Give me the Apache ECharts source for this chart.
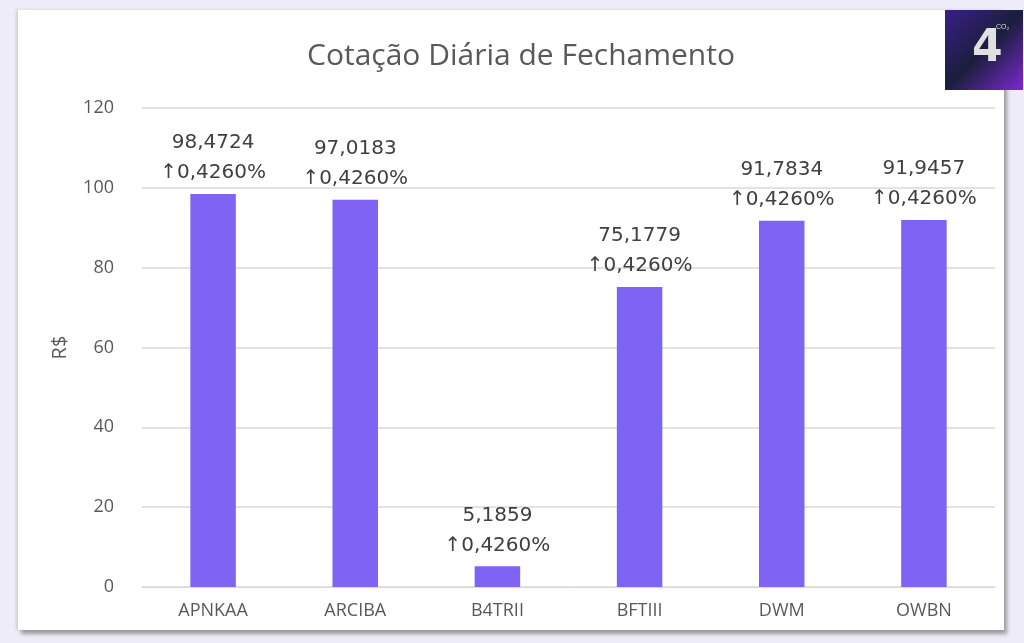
<!DOCTYPE html>
<html>
<head>
<meta charset="utf-8">
<style>
  html, body { margin: 0; width: 100%; height: 100%; background: #efecf9; overflow: hidden; }
  #panel { position: absolute; left: 18px; top: 10px; width: 986px; height: 620px; background: #fff;
           box-shadow: 3px 4px 4px #9a9a9a, -2px 0 3px #cfcfcf; }
  #chart { position: absolute; left: 0; top: 0; width: 1024px; height: 643px; }
</style>
</head>
<body>
<div id="panel"></div>
<div id="chart"></div>
<script src="https://cdn.jsdelivr.net/npm/echarts@6/dist/echarts.min.js"></script>
<script>
var categories = ['APNKAA', 'ARCIBA', 'B4TRII', 'BFTIII', 'DWM', 'OWBN'];
var prices = [98.4724, 97.0183, 5.1859, 75.1779, 91.7834, 91.9457];
var changes = ['0,4260%', '0,4260%', '0,4260%', '0,4260%', '0,4260%', '0,4260%'];

var chart = echarts.init(document.getElementById('chart'));
var textColor = '#404040';
chart.setOption({
  animation: false,
  title: {
    text: 'Cotação Diária de Fechamento',
    left: 516, top: 36, textAlign: 'center',
    textStyle: { fontFamily: 'Open Sans', fontSize: 30, fontWeight: 'normal', color: '#595959' }
  },
  grid: { left: 142, right: 29, top: 108, bottom: 56 },
  xAxis: {
    type: 'category', data: categories,
    axisLine: { lineStyle: { color: '#d9d9d9' } },
    axisTick: { show: false },
    axisLabel: { fontFamily: 'Open Sans', fontSize: 18, color: '#595959', margin: 15 }
  },
  yAxis: {
    type: 'value', min: 0, max: 120, interval: 20,
    name: 'R$', nameLocation: 'middle', nameGap: 72, nameRotate: 90,
    nameTextStyle: { fontFamily: 'Open Sans', fontSize: 20, color: '#595959' },
    axisLine: { show: false }, axisTick: { show: false },
    axisLabel: { fontFamily: 'Open Sans', fontSize: 18, color: '#595959', margin: 28 },
    splitLine: { lineStyle: { color: '#d9d9d9', width: 1.5 } }
  },
  series: [{
    type: 'bar', data: prices, barWidth: '32%',
    itemStyle: { color: '#7f63f4' },
    label: {
      show: true, position: 'top', distance: 6,
      fontFamily: 'DejaVu Sans', fontSize: 20, color: textColor, lineHeight: 30, align: 'center',
      formatter: function (p) {
        return p.value.toFixed(4).replace('.', ',') + '\n↑' + changes[p.dataIndex];
      }
    }
  }],
  graphic: [
    { type: 'rect', left: 945, top: 10, shape: { width: 78, height: 80 },
      style: { fill: new echarts.graphic.LinearGradient(0, 0, 1, 1, [
        { offset: 0, color: '#3a1f8a' }, { offset: 0.5, color: '#1b1e3c' }, { offset: 1, color: '#7a2ad0' }]) } },
    { type: 'text', left: 972, top: 28, style: { text: '4', fontSize: 44, fontWeight: 'bold', fill: '#e0e0e0', fontFamily: 'DejaVu Sans' } },
    { type: 'text', left: 996, top: 24, style: { text: 'CO₂', fontSize: 7, fill: '#ddd' } }
  ]
});
</script>
</body>
</html>
